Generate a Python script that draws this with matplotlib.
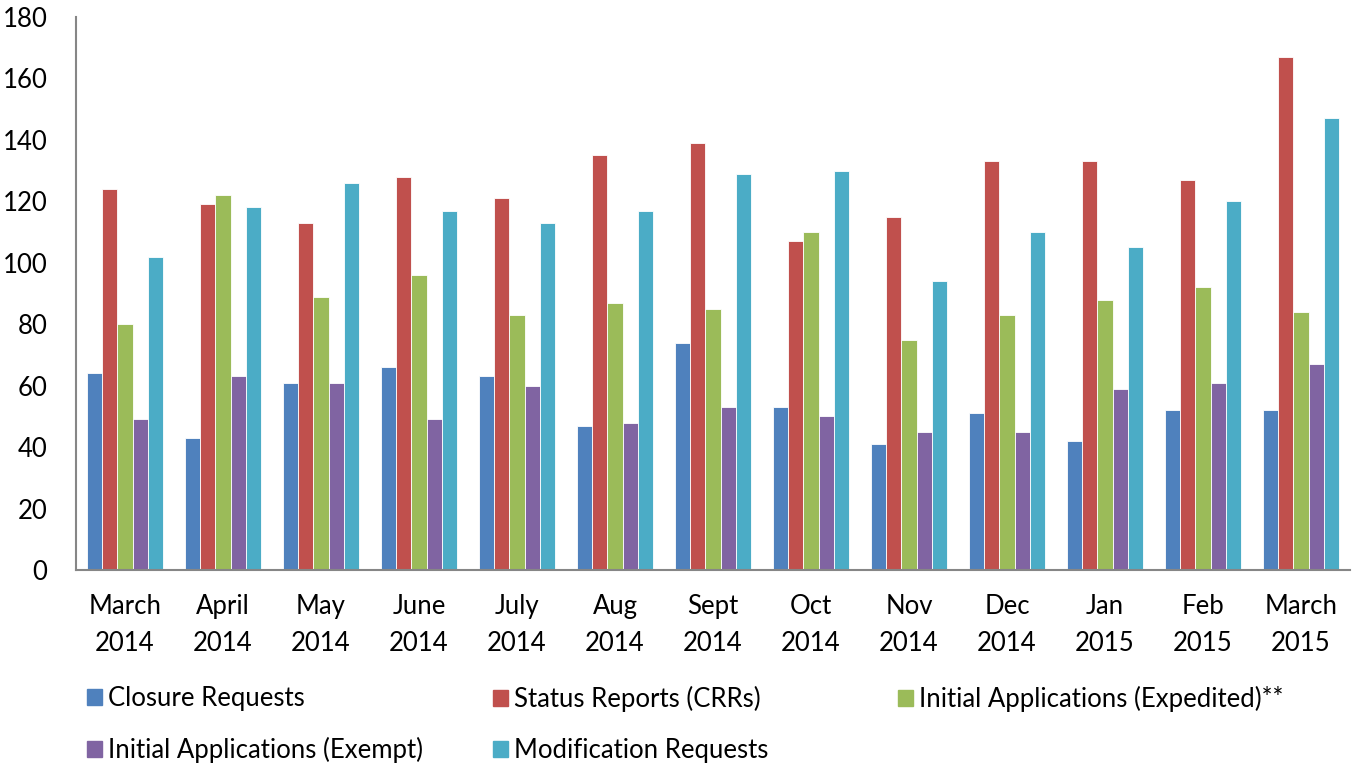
import matplotlib
matplotlib.use('Agg')
import matplotlib.pyplot as plt
import matplotlib.patches as patches
import numpy as np

plt.rcParams['font.family'] = ['Lato', 'DejaVu Sans']

months = ['March\n2014', 'April\n2014', 'May\n2014', 'June\n2014', 'July\n2014', 'Aug\n2014',
          'Sept\n2014', 'Oct\n2014', 'Nov\n2014', 'Dec\n2014', 'Jan\n2015', 'Feb\n2015', 'March\n2015']

closure = [64, 43, 61, 66, 63, 47, 74, 53, 41, 51, 42, 52, 52]
status = [124, 119, 113, 128, 121, 135, 139, 107, 115, 133, 133, 127, 167]
expedited = [80, 122, 89, 96, 83, 87, 85, 110, 75, 83, 88, 92, 84]
exempt = [49, 63, 61, 49, 60, 48, 53, 50, 45, 45, 59, 61, 67]
modification = [102, 118, 126, 117, 113, 117, 129, 130, 94, 110, 105, 120, 147]

series_names = ['Closure Requests', 'Status Reports (CRRs)', 'Initial Applications (Expedited)**',
                'Initial Applications (Exempt)', 'Modification Requests']
colors = ['#4F81BD', '#C0504D', '#9BBB59', '#8064A2', '#4BACC6']
series = [closure, status, expedited, exempt, modification]

FS = 18.5

fig = plt.figure(figsize=(13.55, 7.65), dpi=100)
ax = fig.add_axes([76 / 1355, 1 - 570 / 765, 1274 / 1355, 553 / 765])

x = np.arange(len(months))
bw = 0.775 / 5
for i, (vals, c) in enumerate(zip(series, colors)):
    ax.bar(x + (i - 2) * bw, vals, bw, color=c, edgecolor='white', linewidth=0.6)

ax.set_xlim(-0.5, len(months) - 0.5)
ax.set_ylim(0, 180)
ax.set_yticks(range(0, 181, 20))
ax.set_xticks(x)
ax.set_xticklabels(months, linespacing=1.6)
ax.tick_params(axis='y', length=0, pad=20.5, labelsize=FS)
ax.tick_params(axis='x', length=0, pad=17, labelsize=FS)
for s in ['top', 'right']:
    ax.spines[s].set_visible(False)
for s in ['left', 'bottom']:
    ax.spines[s].set_color('#868686')
    ax.spines[s].set_linewidth(1.5)

# legend: three columns placed by hand to match the layout
cols = [[0, 3], [1, 4], [2]]
col_x = [87 / 1355, 493 / 1355, 898 / 1355]
for ci, idx in enumerate(cols):
    handles = [patches.Patch(color=colors[k]) for k in idx]
    labels = [series_names[k] for k in idx]
    fig.legend(handles, labels, loc='upper left', bbox_to_anchor=(col_x[ci], 1 - 686 / 765),
               frameon=False, fontsize=FS, handlelength=0.58, handleheight=0.58,
               handletextpad=0.25, labelspacing=1.0, borderpad=0, borderaxespad=0)

fig.savefig('out.png', dpi=100)
